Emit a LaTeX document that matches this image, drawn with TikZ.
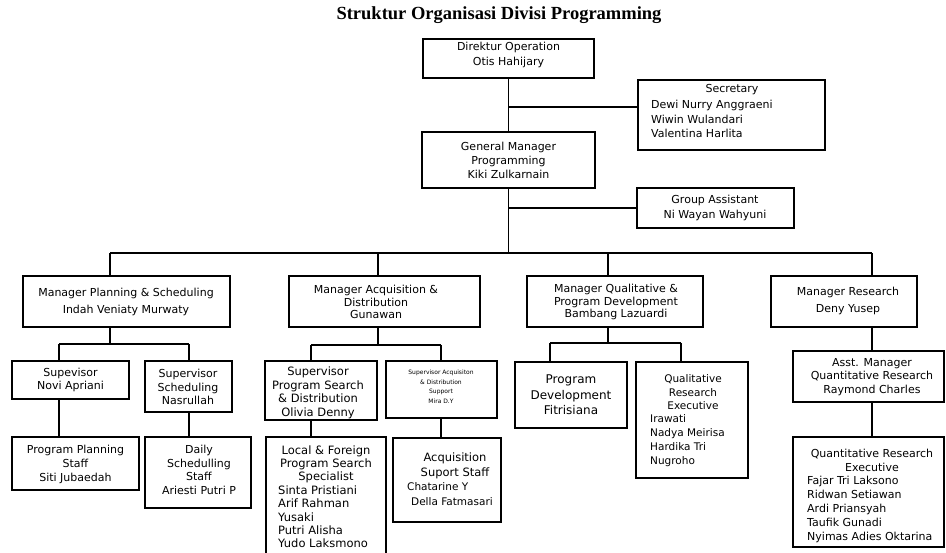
\documentclass[tikz,border=0pt]{standalone}
\usepackage{fontspec}
\setmainfont{DejaVu Sans}
\newfontfamily\titlefont{Liberation Serif}
\tikzset{
  box/.style={draw, rectangle, line width=1.9pt, inner sep=0pt},
  conn/.style={draw, line width=1.1pt},
  txt/.style={font=\fontsize{11}{14}\selectfont, align=center, inner sep=0pt},
  lst/.style={font=\fontsize{11}{14}\selectfont, align=left, inner sep=0pt, anchor=west},
}
\newcommand\bx[5]{\node[box, minimum width={#4-#2}, minimum height={#5-#3}] (#1) at ({(#2+#4)/2},{(#3+#5)/2}) {};}
\begin{document}
\begin{tikzpicture}[x=1pt,y=-1pt]
\useasboundingbox (0,0) rectangle (946,553);
% title
\node[inner sep=0pt, font=\titlefont\bfseries\fontsize{18.5}{20}\selectfont] (title) at (499,15) {Struktur Organisasi Divisi Programming};
% boxes
\bx{dir}{423}{39}{594}{78}
\bx{sec}{638}{80}{825}{150}
\bx{gm}{422}{132}{595}{188}
\bx{ga}{637}{188}{794}{228}
\bx{m1}{23}{276}{230}{327}
\bx{m2}{289}{276}{480}{327}
\bx{m3}{527}{276}{703}{327}
\bx{m4}{771}{276}{917}{327}
\bx{s1}{12}{361}{129}{399}
\bx{s2}{145}{361}{232}{412}
\bx{st1}{12}{437}{139}{490}
\bx{st2}{145}{437}{251}{508}
\bx{s3}{265}{361}{377}{420}
\bx{s4}{386}{361}{497}{418}
\bx{st3}{266}{437}{386}{558}
\bx{st4}{393}{438}{501}{522}
\bx{pd}{515}{362}{627}{428}
\bx{qr}{636}{362}{748}{478}
\bx{am}{793}{351}{944}{402}
\bx{qe}{793}{437}{944}{547}
% texts
\node[txt, font=\fontsize{11}{15}\selectfont] (tdir) at (508.5,55) {Direktur Operation\\Otis Hahijary};
\node[txt] (tsec) at (732,90) {Secretary};
\node[lst, font=\fontsize{11}{14.5}\selectfont] (lsec) at (651,119) {Dewi Nurry Anggraeni\\Wiwin Wulandari\\Valentina Harlita};
\node[txt] (tgm) at (508.5,160) {General Manager\\Programming\\Kiki Zulkarnain};
\node[txt, font=\fontsize{11}{15}\selectfont] (tga) at (715,208) {Group Assistant\\Ni Wayan Wahyuni};
\node[txt, font=\fontsize{11}{17}\selectfont] (tm1) at (126,301.5) {Manager Planning \& Scheduling\\Indah Veniaty Murwaty};
\node[txt, font=\fontsize{11}{12.5}\selectfont] (tm2) at (376,302) {Manager Acquisition \&\\Distribution\\Gunawan};
\node[txt, font=\fontsize{11}{12.5}\selectfont] (tm3) at (616,302) {Manager Qualitative \&\\Program Development\\Bambang Lazuardi};
\node[txt, font=\fontsize{11}{17}\selectfont] (tm4) at (848,300.5) {Manager Research\\Deny Yusep};
\node[txt, font=\fontsize{11}{13.5}\selectfont] (ts1) at (70.5,380) {Supevisor\\Novi Apriani};
\node[txt, font=\fontsize{11}{13.5}\selectfont] (ts2) at (188,387) {Supervisor\\Scheduling\\Nasrullah};
\node[txt] (tst1) at (75.5,464) {Program Planning\\Staff\\Siti Jubaedah};
\node[txt, font=\fontsize{11}{13.7}\selectfont] (tst2) at (199,470) {Daily\\Schedulling\\Staff\\Ariesti Putri P};
\node[txt, font=\fontsize{11.5}{13.5}\selectfont] (ts3) at (318,393) {Supervisor\\Program Search\\\& Distribution\\Olivia Denny};
\node[txt, font=\fontsize{6}{9.5}\selectfont] (ts4) at (441,387) {Supervisor  Acquisiton\\\& Distribution\\Support\\Mira D.Y};
\node[txt, font=\fontsize{11.5}{13}\selectfont] (tst3) at (326,464) {Local \& Foreign\\Program Search\\Specialist};
\node[lst, font=\fontsize{11.5}{13.3}\selectfont] (lst3) at (278,517) {Sinta Pristiani\\Arif Rahman\\Yusaki\\Putri Alisha\\Yudo Laksmono};
\node[txt, font=\fontsize{11.5}{15}\selectfont] (tst4) at (455,465.5) {Acquisition\\Suport Staff};
\node[lst, font=\fontsize{10.5}{15}\selectfont] (lst4a) at (407,487) {Chatarine Y};
\node[lst, font=\fontsize{10.5}{15}\selectfont] (lst4b) at (411,502) {Della Fatmasari};
\node[txt, font=\fontsize{12}{15.5}\selectfont] (tpd) at (571,395) {Program\\Development\\Fitrisiana};
\node[txt, font=\fontsize{10.5}{13.5}\selectfont] (tqr) at (693,392.5) {Qualitative\\Research\\Executive};
\node[lst, font=\fontsize{10.5}{14}\selectfont] (lqr) at (650,441) {Irawati\\Nadya Meirisa\\Hardika Tri\\Nugroho};
\node[txt, font=\fontsize{11}{13.5}\selectfont] (tam) at (872,377) {Asst. Manager\\Quantitative Research\\Raymond Charles};
\node[txt] (tqe) at (872,460) {Quantitative Research\\Executive};
\node[lst] (lqe) at (807,509) {Fajar Tri Laksono\\Ridwan Setiawan\\Ardi Priansyah\\Taufik Gunadi\\Nyimas Adies Oktarina};
% connector points
\coordinate (j0) at (508.5,107);
\coordinate (bus) at (508.5,253);
\coordinate (jm1) at (110,253);
\coordinate (jm2) at (378,253);
\coordinate (jm3) at (608,253);
\coordinate (jm4) at (872,253);
\coordinate (h1) at (110,344);
\coordinate (h1a) at (59,344);
\coordinate (h1b) at (189,344);
\coordinate (h2) at (378,345);
\coordinate (h2a) at (311,345);
\coordinate (h2b) at (441,345);
\coordinate (h3) at (608,343);
\coordinate (h3a) at (550,343);
\coordinate (h3b) at (681,343);
% connectors
\draw[conn] (dir.south) -- (gm.north);
\draw[conn] (j0) -- (j0 -| sec.west);
\draw[conn] (gm.south) -- (bus);
\draw[conn] (gm.south |- ga.west) -- (ga.west);
\draw[conn] (jm1) -- (jm4);
\draw[conn] (jm1) -- (jm1 |- m1.north);
\draw[conn] (jm2) -- (jm2 |- m2.north);
\draw[conn] (jm3) -- (jm3 |- m3.north);
\draw[conn] (jm4) -- (jm4 |- m4.north);
% planning
\draw[conn] (h1 |- m1.south) -- (h1);
\draw[conn] (h1a) -- (h1b);
\draw[conn] (h1a) -- (h1a |- s1.north);
\draw[conn] (h1b) -- (h1b |- s2.north);
\draw[conn] (h1a |- s1.south) -- (h1a |- st1.north);
\draw[conn] (h1b |- s2.south) -- (h1b |- st2.north);
% acquisition
\draw[conn] (h2 |- m2.south) -- (h2);
\draw[conn] (h2a) -- (h2b);
\draw[conn] (h2a) -- (h2a |- s3.north);
\draw[conn] (h2b) -- (h2b |- s4.north);
\draw[conn] (h2a |- s3.south) -- (h2a |- st3.north);
\draw[conn] (h2b |- s4.south) -- (h2b |- st4.north);
% qualitative
\draw[conn] (h3 |- m3.south) -- (h3);
\draw[conn] (h3a) -- (h3b);
\draw[conn] (h3a) -- (h3a |- pd.north);
\draw[conn] (h3b) -- (h3b |- qr.north);
% research
\draw[conn] (jm4 |- m4.south) -- (jm4 |- am.north);
\draw[conn] (jm4 |- am.south) -- (jm4 |- qe.north);
\end{tikzpicture}
\end{document}
